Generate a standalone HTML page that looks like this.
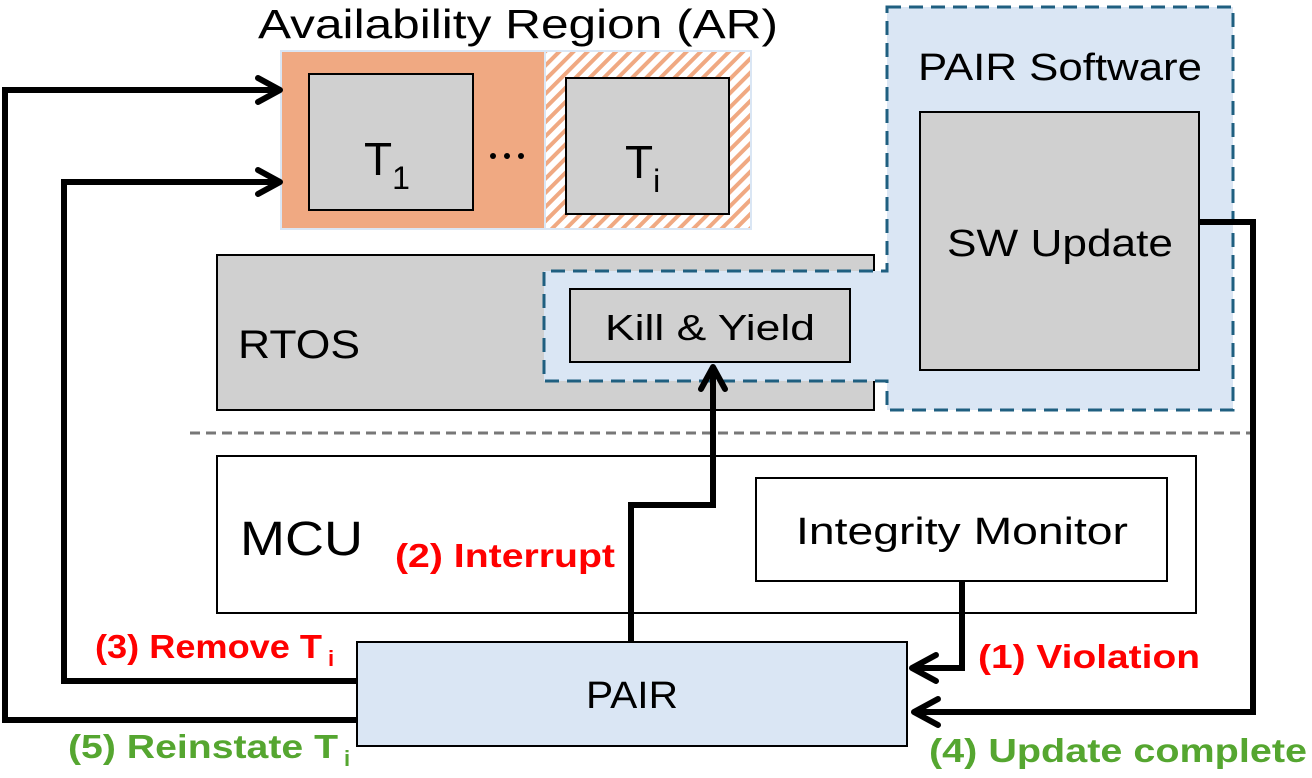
<!DOCTYPE html>
<html><head><style>
body{margin:0;background:#fff;}
svg{display:block;font-family:"Liberation Sans",sans-serif;}
</style></head><body>
<svg width="1312" height="778" viewBox="0 0 1312 778">
<defs>
<pattern id="h" width="10" height="10" patternUnits="userSpaceOnUse" patternTransform="rotate(45)">
<rect width="10" height="10" fill="#fff"/><rect width="4" height="10" fill="#F0A982"/>
</pattern>
</defs>
<text x="258" y="38" font-size="41" textLength="520" lengthAdjust="spacingAndGlyphs">Availability Region (AR)</text>
<rect x="281" y="51" width="264" height="178" fill="#F0A982" stroke="#DAE6F4" stroke-width="2"/>
<rect x="545" y="51" width="206" height="178" fill="url(#h)" stroke="#DAE6F4" stroke-width="2"/>
<rect x="309" y="74" width="164" height="136" fill="#D0D0D0" stroke="#000" stroke-width="2"/>
<rect x="566" y="78" width="163" height="136" fill="#D0D0D0" stroke="#000" stroke-width="2"/>
<text x="364" y="175" font-size="46">T<tspan font-size="32" dy="14">1</tspan></text>
<text x="625" y="178" font-size="46">T<tspan font-size="32" dy="14">i</tspan></text>
<g fill="#000"><circle cx="493" cy="156" r="3"/><circle cx="507" cy="156" r="3"/><circle cx="521" cy="156" r="3"/></g>
<rect x="217" y="255" width="657" height="155" fill="#D0D0D0" stroke="#000" stroke-width="2"/>
<text x="238" y="358" font-size="40" textLength="122" lengthAdjust="spacingAndGlyphs">RTOS</text>
<path d="M887 7 H1233 V410 H887 V381 H544 V271 H887 Z" fill="#DAE6F4" stroke="#1F5F80" stroke-width="3" stroke-dasharray="14 8"/>
<rect x="570" y="289" width="280" height="73" fill="#D0D0D0" stroke="#000" stroke-width="2"/>
<text x="605" y="340" font-size="36" textLength="210" lengthAdjust="spacingAndGlyphs">Kill &amp; Yield</text>
<text x="918" y="80" font-size="38" textLength="284" lengthAdjust="spacingAndGlyphs">PAIR Software</text>
<rect x="920" y="112" width="279" height="258" fill="#D0D0D0" stroke="#000" stroke-width="2"/>
<text x="947" y="256" font-size="38" textLength="226" lengthAdjust="spacingAndGlyphs">SW Update</text>
<line x1="190" y1="433" x2="1262" y2="433" stroke="#777" stroke-width="3" stroke-dasharray="10 6"/>
<rect x="217" y="456" width="979" height="157" fill="#fff" stroke="#000" stroke-width="2"/>
<text x="240" y="555" font-size="48" textLength="123" lengthAdjust="spacingAndGlyphs">MCU</text>
<rect x="756" y="478" width="411" height="103" fill="#fff" stroke="#000" stroke-width="2"/>
<text x="796" y="544" font-size="38" textLength="332" lengthAdjust="spacingAndGlyphs">Integrity Monitor</text>
<rect x="357" y="642" width="550" height="104" fill="#DAE6F4" stroke="#000" stroke-width="2"/>
<text x="586" y="708" font-size="38" textLength="92" lengthAdjust="spacingAndGlyphs">PAIR</text>
<g fill="none" stroke="#000" stroke-width="6" stroke-linejoin="miter">
<path d="M357 720 H5 V90 H278"/>
<path d="M357 681 H64 V182 H278"/>
<path d="M631 642 V505 H713 V367"/>
<path d="M962 581 V668 H912"/>
<path d="M1199 222 H1253 V712 H914"/>
</g>
<g fill="none" stroke="#000" stroke-width="6" stroke-linecap="round" stroke-linejoin="round">
<path d="M258 78 L280 90 L258 102"/>
<path d="M258 170 L280 182 L258 194"/>
<path d="M701 389 L713 367 L725 389"/>
<path d="M936 655 L912 668 L936 681"/>
<path d="M938 699 L914 712 L938 725"/>
</g>
<g font-weight="bold" font-size="33">
<text x="395" y="567" fill="#FF0000" textLength="220" lengthAdjust="spacingAndGlyphs">(2) Interrupt</text>
<text x="95" y="658" fill="#FF0000" textLength="227" lengthAdjust="spacingAndGlyphs">(3) Remove T</text>
<text x="328" y="666" fill="#FF0000" font-size="22">i</text>
<text x="978" y="668" fill="#FF0000" textLength="222" lengthAdjust="spacingAndGlyphs">(1) Violation</text>
<text x="68" y="758" fill="#55A630" textLength="270" lengthAdjust="spacingAndGlyphs">(5) Reinstate T</text>
<text x="344" y="766" fill="#55A630" font-size="22">i</text>
<text x="929" y="762" fill="#55A630" textLength="378" lengthAdjust="spacingAndGlyphs">(4) Update complete</text>
</g>
</svg>
</body></html>
